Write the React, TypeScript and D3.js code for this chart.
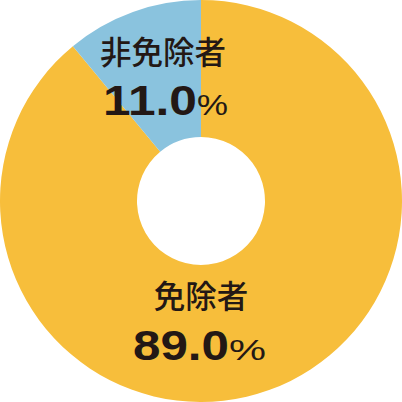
import * as d3 from 'd3';

const categories = ['免除者', '非免除者'];
const values = [89.0, 11.0];
const valueLabels = ['89.0', '11.0'];
const colors = ['#F7BE3B', '#8AC3DE'];

const W = 402;
const H = 402;
const cx = 201;
const cy = 201;
const outerR = 201;
const innerR = 64;

// label layout: name centre/baseline, number start/width/baseline, % start/width
const labelPos = [
  { nameX: 201, nameY: 308, numX: 133, numW: 96, valueY: 360, pctX: 229, pctW: 37 },
  { nameX: 163, nameY: 64, numX: 103, numW: 94, valueY: 115, pctX: 197, pctW: 31 },
];

export default function App() {
  const pie = d3.pie<number>().sort(null).startAngle(0).endAngle(2 * Math.PI);
  const arcs = pie(values);
  const arc = d3.arc<d3.PieArcDatum<number>>().innerRadius(innerR).outerRadius(outerR);

  return (
    <svg
      width={W}
      height={H}
      style={{ position: 'absolute', left: 0, top: 0, display: 'block', background: '#fff' }}
    >
      <g transform={`translate(${cx},${cy})`}>
        {arcs.map((a, i) => (
          <path key={categories[i]} d={arc(a) || ''} fill={colors[i]} />
        ))}
      </g>
      {categories.map((c, i) => {
        const p = labelPos[i];
        return (
          <g key={c} fill="#231815">
            <text
              x={p.nameX}
              y={p.nameY}
              textAnchor="middle"
              fontFamily="'Noto Sans CJK JP', sans-serif"
              fontWeight={500}
              fontSize={31.5}
            >
              {c}
            </text>
            <text
              x={p.numX}
              y={p.valueY}
              fontFamily="'Liberation Sans', Arial, sans-serif"
              fontWeight={700}
              fontSize={42}
              textLength={p.numW}
              lengthAdjust="spacingAndGlyphs"
            >
              {valueLabels[i]}
            </text>
            <text
              x={p.pctX}
              y={p.valueY}
              fontFamily="'Liberation Sans', Arial, sans-serif"
              fontWeight={400}
              fontSize={30}
              textLength={p.pctW}
              lengthAdjust="spacingAndGlyphs"
            >
              %
            </text>
          </g>
        );
      })}
    </svg>
  );
}
